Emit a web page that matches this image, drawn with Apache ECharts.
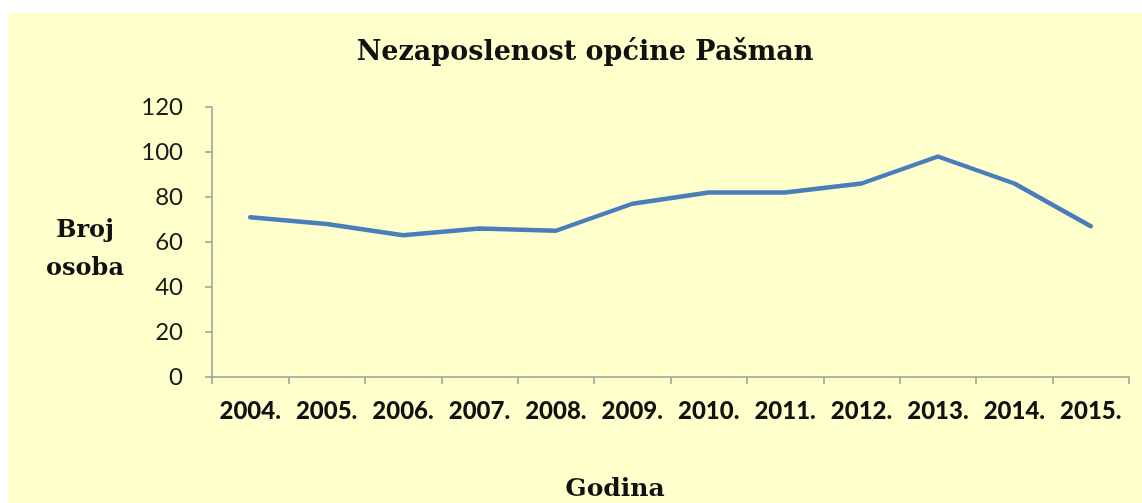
<!DOCTYPE html>
<html>
<head>
<meta charset="utf-8">
<script src="https://cdn.jsdelivr.net/npm/echarts@6/dist/echarts.min.js"></script>
<style>
  html, body { margin: 0; padding: 0; background: #ffffff; width: 1142px; height: 503px; overflow: hidden; }
  #chart { position: absolute; left: 8px; top: 13px; width: 1134px; height: 490px; }
</style>
</head>
<body>
<div id="chart"></div>
<script>
const years = ['2004.', '2005.', '2006.', '2007.', '2008.', '2009.', '2010.', '2011.', '2012.', '2013.', '2014.', '2015.'];
const unemployed = [71, 68, 63, 66, 65, 77, 82, 82, 86, 98, 86, 67];
const yTicks = { min: 0, max: 120, interval: 20 };
const titleText = 'Nezaposlenost općine Pašman';
const yAxisTitle = 'Broj\nosoba';
const xAxisTitle = 'Godina';

const chart = echarts.init(document.getElementById('chart'), null, { renderer: 'canvas' });
const axisGrey = '#9a9a9a';
const serif = '"DejaVu Serif", "Liberation Serif", serif';
const sans = 'Lato, "Open Sans", sans-serif';

chart.setOption({
  backgroundColor: '#FFFFCC',
  animation: false,
  title: {
    text: titleText,
    left: 572,
    top: 21,
    textAlign: 'center',
    textStyle: { fontFamily: serif, fontWeight: 'bold', fontSize: 27, color: '#111111' }
  },
  grid: { left: 204, top: 94, right: 13, bottom: 126, containLabel: false },
  xAxis: {
    type: 'category',
    data: years,
    boundaryGap: true,
    axisLine: { show: true, lineStyle: { color: axisGrey, width: 1.5 } },
    axisTick: { show: true, length: 7, lineStyle: { color: axisGrey, width: 1.5 } },
    axisLabel: { interval: 0, margin: 22, fontFamily: sans, fontWeight: 900, fontSize: 24, color: '#111111' },
    splitLine: { show: false }
  },
  yAxis: {
    type: 'value',
    min: yTicks.min,
    max: yTicks.max,
    interval: yTicks.interval,
    axisLine: { show: true, lineStyle: { color: axisGrey, width: 1.5 } },
    axisTick: { show: true, length: 7, lineStyle: { color: axisGrey, width: 1.5 } },
    axisLabel: { margin: 29, fontFamily: sans, fontSize: 24, color: '#1a1a1a' },
    splitLine: { show: false }
  },
  graphic: [
    {
      type: 'text',
      x: 77,
      y: 199,
      style: {
        text: yAxisTitle,
        fontFamily: serif,
        fontWeight: 'bold',
        fontSize: 24,
        lineHeight: 38,
        align: 'center',
        verticalAlign: 'top',
        fill: '#111111'
      }
    },
    {
      type: 'text',
      x: 607,
      y: 464,
      style: {
        text: xAxisTitle,
        fontFamily: serif,
        fontWeight: 'bold',
        fontSize: 25,
        align: 'center',
        verticalAlign: 'top',
        fill: '#111111'
      }
    }
  ],
  series: [{
    type: 'line',
    data: unemployed,
    showSymbol: false,
    symbol: 'none',
    smooth: false,
    lineStyle: { color: '#4A7EBB', width: 4.5, cap: 'round', join: 'round' },
    itemStyle: { color: '#4A7EBB' }
  }]
});
</script>
</body>
</html>
